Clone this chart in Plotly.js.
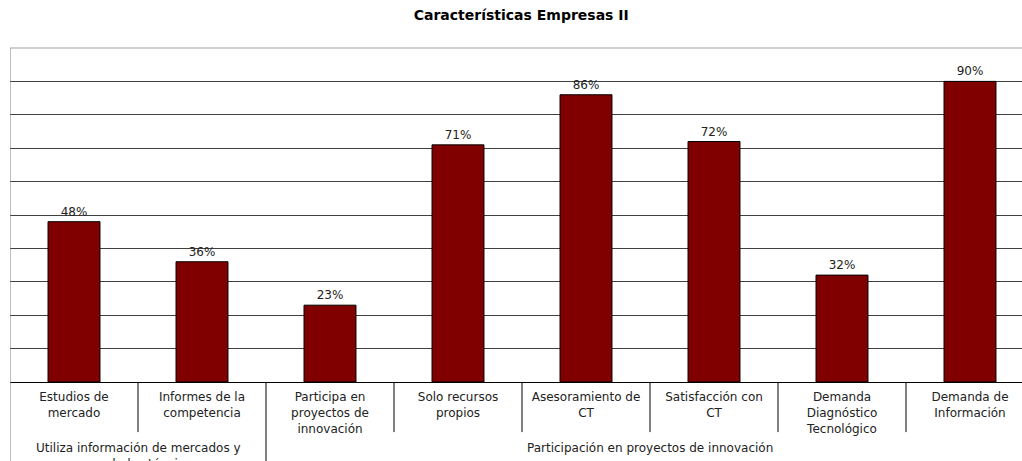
<!DOCTYPE html>
<html>
<head>
<meta charset="utf-8">
<script src="https://cdn.plot.ly/plotly-3.0.1.min.js"></script>
<style>html,body{margin:0;padding:0;background:#fff;}#chart{width:1022px;height:461px;}</style>
</head>
<body>
<div id="chart"></div>
<script>
var categories = [
  "Estudios de<br>mercado",
  "Informes de la<br>competencia",
  "Participa en<br>proyectos de<br>innovación",
  "Solo recursos<br>propios",
  "Asesoramiento de<br>CT",
  "Satisfacción con<br>CT",
  "Demanda<br>Diagnóstico<br>Tecnológico",
  "Demanda de<br>Información"
];
var values = [48, 36, 23, 71, 86, 72, 32, 90];
var groupLabels = [
  "Utiliza información de mercados y<br>novedades técnicas",
  "Participación en proyectos de innovación"
];
var groupSizes = [2, 6];
var titleText = "Características Empresas II";

var FONT = "DejaVu Sans, Arial, sans-serif";

var shapes = [];
var annotations = [];
// left border of plot + label area
shapes.push({type:'line', xref:'x', yref:'paper', x0:-0.5, x1:-0.5, y0:1, y1:-0.3, line:{color:'#808080', width:1}});
// top border
shapes.push({type:'line', xref:'paper', yref:'paper', x0:0, x1:1, y0:1, y1:1, line:{color:'#a0a0a0', width:1}});
var start = 0;
groupSizes.forEach(function(sz, g){
  for (var i = start; i < start + sz; i++) {
    if (i > start) {
      shapes.push({type:'line', xref:'x', yref:'paper', x0:i-0.5, x1:i-0.5, y0:0, y1:-0.15, line:{color:'#000', width:1}});
    }
  }
  var endB = start + sz - 0.5;
  shapes.push({type:'line', xref:'x', yref:'paper', x0:endB, x1:endB, y0:0, y1:-0.3, line:{color:'#000', width:1}});
  annotations.push({
    xref:'x', yref:'paper', x:(start + start + sz - 1)/2, y:-0.17, yanchor:'top', xanchor:'center',
    text: groupLabels[g], showarrow:false, font:{family:FONT, size:12, color:'#222'}
  });
  start += sz;
});

var trace = {
  type:'bar',
  x: categories,
  y: values,
  marker:{color:'#800000', line:{color:'#000', width:1}},
  text: values.map(function(v){return v + '%';}),
  textposition:'outside',
  textfont:{family:FONT, size:12, color:'#222'},
  cliponaxis:false,
  hoverinfo:'none'
};

var layout = {
  width:1022, height:461,
  margin:{l:10, r:0, t:48, b:79},
  paper_bgcolor:'#fff', plot_bgcolor:'#fff',
  showlegend:false,
  bargap:0.594,
  title:{text:'<b>' + titleText + '</b>', font:{family:FONT, size:14, color:'#000'}, x:0.51, xref:'container', y:0.967, yref:'container', yanchor:'middle', xanchor:'center'},
  xaxis:{
    type:'category',
    range:[-0.5, 7.40625],
    showgrid:false, zeroline:false,
    showline:true, linecolor:'#000', linewidth:1,
    ticks:'', tickfont:{family:FONT, size:12, color:'#222'},
    ticklabelstandoff:4,
    fixedrange:true
  },
  yaxis:{
    range:[0, 100], dtick:10, tick0:0,
    showgrid:true, gridcolor:'#404040', gridwidth:1,
    zeroline:false, showline:false, showticklabels:false, ticks:'',
    fixedrange:true
  },
  shapes:shapes,
  annotations:annotations
};

Plotly.newPlot('chart', [trace], layout, {staticPlot:true, displayModeBar:false});
</script>
</body>
</html>
